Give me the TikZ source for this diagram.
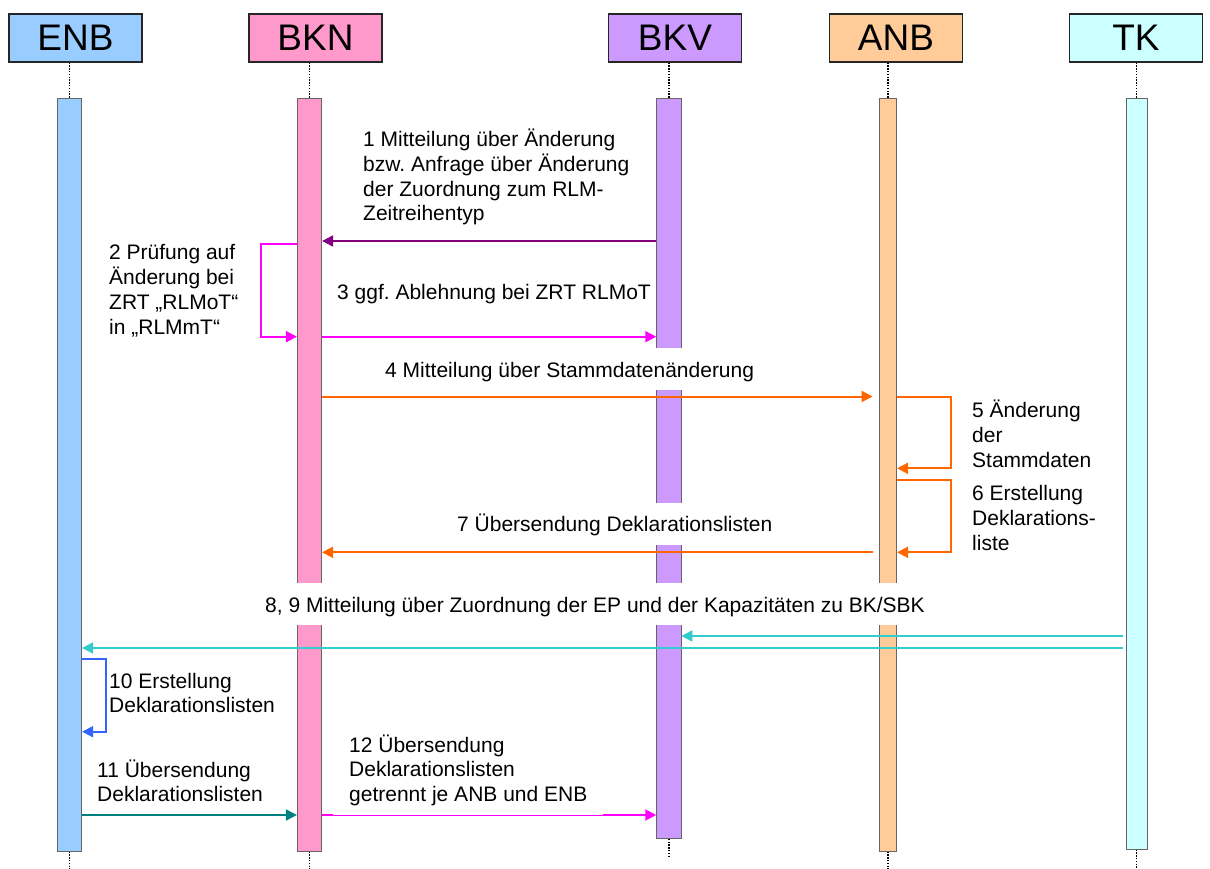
\documentclass[tikz,border=0pt]{standalone}
\usepackage{fontspec}
\setmainfont{Liberation Sans}
\frenchspacing
\usetikzlibrary{arrows.meta}
\definecolor{enbcol}{HTML}{99CCFF}
\definecolor{bkncol}{HTML}{FF99CC}
\definecolor{bkvcol}{HTML}{CC99FF}
\definecolor{anbcol}{HTML}{FFCC99}
\definecolor{tkcol}{HTML}{CCFFFF}
\definecolor{msgpurple}{HTML}{800080}
\definecolor{msgmagenta}{HTML}{FF00FF}
\definecolor{msgorange}{HTML}{FF6600}
\definecolor{msgcyan}{HTML}{33CCCC}
\definecolor{msgblue}{HTML}{3366FF}
\definecolor{msgteal}{HTML}{008080}

\begin{document}
\begin{tikzpicture}[x=1pt,y=-1pt,
  head/.style={draw=black!85, line width=1.3pt, minimum width=133pt, minimum height=48pt,
    inner sep=0pt, font=\fontsize{37}{40}\selectfont},
  bar/.style={draw=black!60, line width=0.8pt, anchor=north, inner sep=0pt},
  life/.style={line width=1.4pt, dash pattern=on 1.4pt off 1.4pt},
  msg/.style={line width=2pt, -{Triangle[length=11pt,width=11pt]}},
  % multi-line labels are anchored at the baseline of their last line
  lbl/.style={font=\fontsize{21}{24.7}\selectfont, align=left, anchor=base west, inner sep=0pt},
  cover/.style={lbl, fill=white, text height=18pt, text depth=2pt, inner ysep=11pt, inner xsep=16pt},
]
\useasboundingbox (0,0) rectangle (1210,869);

% participants
\node[head, fill=enbcol] (enb) at (75.5,38) {ENB};
\node[head, fill=bkncol] (bkn) at (315.5,38) {BKN};
\node[head, fill=bkvcol] (bkv) at (675,38) {BKV};
\node[head, fill=anbcol] (anb) at (896,38) {ANB};
\node[head, fill=tkcol] (tk) at (1136,38) {TK};

% activation bars
\node[bar, fill=enbcol, minimum width=24.4pt, minimum height=753pt] (enbBar) at (69.5,97.7) {};
\node[bar, fill=bkncol, minimum width=24.4pt, minimum height=753pt] (bknBar) at (309.5,97.7) {};
\node[bar, fill=bkvcol, minimum width=24.3pt, minimum height=740.3pt] (bkvBar) at (668.8,97.7) {};
\node[bar, fill=anbcol, minimum width=17.7pt, minimum height=753pt] (anbBar) at (887.8,97.7) {};
\node[bar, fill=tkcol, minimum width=21pt, minimum height=751pt] (tkBar) at (1136.5,97.7) {};

% lifelines
\foreach \p in {enb,bkn,bkv,anb,tk}{
  \draw[life] (\p.south -| \p Bar.north) -- (\p Bar.north);
  \draw[life] (\p Bar.south) -- ++(0,19);
}

% messages
\draw[msg, msgpurple] (bkvBar.west |- 0,241) -- (bknBar.east |- 0,241);
\draw[msg, msgmagenta] (bknBar.west |- 0,244) -- ++(-36,0) |- (bknBar.west |- 0,336.7);
\draw[msg, msgmagenta] (bknBar.east |- 0,336.7) -- (bkvBar.west |- 0,336.7);
\draw[msg, msgorange, shorten >=6pt] (bknBar.east |- 0,396.5) -- (anbBar.west |- 0,396.5);
\draw[msg, msgorange] (anbBar.east |- 0,396.5) -- ++(54,0) |- (anbBar.east |- 0,468.3);
\draw[msg, msgorange] (anbBar.east |- 0,480) -- ++(54,0) |- (anbBar.east |- 0,552.3);
\draw[msg, msgorange, shorten <=6pt] (anbBar.west |- 0,552.3) -- (bknBar.east |- 0,552.3);
\draw[msg, msgcyan, shorten <=3pt] (tkBar.west |- 0,636) -- (bkvBar.east |- 0,636);
\draw[msg, msgcyan, shorten <=3pt] (tkBar.west |- 0,648) -- (enbBar.east |- 0,648);
\draw[msg, msgblue] (enbBar.east |- 0,659.3) -- ++(24,0) |- (enbBar.east |- 0,731.7);
\draw[msg, msgteal] (enbBar.east |- 0,815) -- (bknBar.west |- 0,815);
\draw[msg, msgmagenta] (bknBar.east |- 0,815) -- (bkvBar.west |- 0,815);

% message labels
\node[lbl] (m1) at (363,221) {1 Mitteilung über Änderung\\bzw. Anfrage über Änderung\\der Zuordnung zum RLM-\\Zeitreihentyp};
\node[lbl] (m2) at (109,334) {2 Prüfung auf\\Änderung bei\\ZRT „RLMoT“\\in „RLMmT“};
\node[lbl] (m3) at (337,299) {3 ggf. Ablehnung bei ZRT RLMoT};
\node[cover] (m4) at (369,377) {4 Mitteilung über Stammdatenänderung};
\node[lbl] (m5) at (972,467.3) {5 Änderung\\der\\Stammdaten};
\node[lbl] (m6) at (972,550) {6 Erstellung\\Deklarations-\\liste};
\node[cover] (m7) at (441,531.7) {7 Übersendung Deklarationslisten};
\node[cover] (m89) at (249,612) {8, 9 Mitteilung über Zuordnung der EP und der Kapazitäten zu BK/SBK};
\node[lbl] (m10) at (109,712.7) {10 Erstellung\\Deklarationslisten};
\node[lbl] (m11) at (97,801.7) {11 Übersendung\\Deklarationslisten};
\node[lbl, fill=white, inner xsep=16pt, inner ysep=9pt, anchor=south west] (m12) at (333,815)
  {12 Übersendung\\Deklarationslisten\\getrennt je ANB und ENB};
\end{tikzpicture}
\end{document}
